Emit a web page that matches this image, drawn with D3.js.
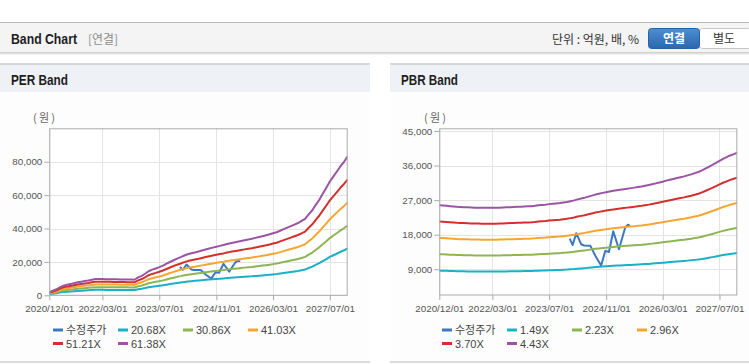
<!DOCTYPE html>
<html><head><meta charset="utf-8">
<script src="https://cdn.jsdelivr.net/npm/d3@7"></script>
<style>
body{margin:0;background:#fff;}
svg{display:block;}
</style></head><body>
<svg id="c" width="749" height="364"></svg>
<script>
// ---------- data ----------
const bandStart = new Date(2020, 11, 1);
const bandEnd = new Date(2027, 11, 1);
// monthly EPS (PER band base), Dec 2020 .. Dec 2027
const epsValues = [29,45,59,78,94,102,110,118,127,133,139,145,152,158,158,158,157,157,156,156,155,155,154,153,152,
  175,190,210,235,250,262,275,290,308,325,342,358,372,388,400,410,418,427,437,447,456,465,474,482,490,500,
  508,515,522,530,537,545,551,560,568,576,585,595,605,615,630,645,660,675,690,705,725,745,790,830,880,930,
  990,1050,1110,1160,1210,1260,1305,1355];
// monthly BPS (PBR band base), Dec 2020 .. Dec 2027
const bpsValues = [5790,5780,5760,5740,5720,5700,5690,5680,5670,5660,5650,5650,5640,5640,5640,5640,5640,5650,
  5660,5670,5680,5690,5700,5710,5720,5730,5740,5760,5790,5810,5830,5860,5880,5900,5920,5950,5980,6030,6080,
  6140,6190,6240,6300,6360,6420,6470,6520,6560,6600,6640,6680,6710,6740,6770,6800,6830,6870,6900,6940,6980,
  7030,7080,7130,7180,7240,7290,7340,7390,7440,7490,7550,7610,7680,7750,7840,7940,8050,8160,8280,8400,8520,
  8620,8720,8800,8880];
const perMultiples = [20.68, 30.86, 41.03, 51.21, 61.38];
const perLabels = ["20.68X", "30.86X", "41.03X", "51.21X", "61.38X"];
const pbrMultiples = [1.49, 2.23, 2.96, 3.70, 4.43];
const pbrLabels = ["1.49X", "2.23X", "2.96X", "3.70X", "4.43X"];
const priceName = "수정주가";
const priceDates = ["2023-12-25","2024-01-19","2024-02-19","2024-04-01","2024-04-25","2024-06-19","2024-08-04",
  "2024-09-19","2024-10-25","2024-11-25","2025-01-01","2025-02-19","2025-04-13","2025-05-07","2025-05-25"];
const priceValues = [17000,15300,18400,15500,15200,15100,12300,10000,13800,13500,18900,14200,19800,20600,20300];
const xTickDates = ["2020-12-01","2022-03-01","2023-07-01","2024-11-01","2026-03-01","2027-07-01"];
const xTickLabels = ["2020/12/01","2022/03/01","2023/07/01","2024/11/01","2026/03/01","2027/07/01"];
const perTicks = [0, 20000, 40000, 60000, 80000];
const pbrTicks = [9000, 18000, 27000, 36000, 45000];
const seriesColors = ["#3b78c4", "#1ab0c8", "#8db552", "#f5a632", "#d2302c", "#9b54a4"];

// ---------- setup ----------
const parse = d3.timeParse("%Y-%m-%d");
const months = d3.timeMonth.range(bandStart, d3.timeMonth.offset(bandEnd, 1));
const svg = d3.select("#c");
const KR = "'Noto Sans CJK KR', 'Noto Sans', sans-serif";
const SANS = "'Liberation Sans', Arial, sans-serif";

// ---------- header ----------
svg.append("rect").attr("x", 0).attr("y", 22).attr("width", 749).attr("height", 1).attr("fill", "#b8b8b8");
svg.append("rect").attr("x", 0).attr("y", 23).attr("width", 749).attr("height", 29).attr("fill", "#f4f4f4");
[["#cfcfcf", 52], ["#e2e2e2", 53], ["#efefef", 54]].forEach(([c, y]) =>
  svg.append("rect").attr("x", 0).attr("y", y).attr("width", 749).attr("height", 1).attr("fill", c));
svg.append("text").attr("x", 11).attr("y", 43.5).attr("font-family", SANS).attr("font-weight", "bold")
  .attr("font-size", 14.5).attr("fill", "#1e1e1e")
  .attr("textLength", 66).attr("lengthAdjust", "spacingAndGlyphs").text("Band Chart");
svg.append("text").attr("x", 88).attr("y", 43.5).attr("font-family", KR).attr("font-size", 12)
  .attr("fill", "#8c8c8c").attr("textLength", 30).attr("lengthAdjust", "spacingAndGlyphs").text("[연결]");
svg.append("text").attr("x", 552).attr("y", 43.5).attr("font-family", KR).attr("font-size", 12)
  .attr("fill", "#333").text("단위 : 억원, 배, %");
const defs = svg.append("defs");
const grad = defs.append("linearGradient").attr("id", "btn").attr("x1", 0).attr("y1", 0).attr("x2", 0).attr("y2", 1);
grad.append("stop").attr("offset", "0%").attr("stop-color", "#4d8ed3");
grad.append("stop").attr("offset", "100%").attr("stop-color", "#2b67ab");
svg.append("rect").attr("x", 699.5).attr("y", 28.5).attr("width", 52).attr("height", 20).attr("rx", 3)
  .attr("fill", "#fff").attr("stroke", "#c6c6c6");
svg.append("rect").attr("x", 648.5).attr("y", 28.5).attr("width", 51).attr("height", 20).attr("rx", 3)
  .attr("fill", "url(#btn)").attr("stroke", "#2a62a2");
svg.append("text").attr("x", 674).attr("y", 42.5).attr("text-anchor", "middle").attr("font-family", KR)
  .attr("font-weight", "bold").attr("font-size", 12).attr("fill", "#fff").text("연결");
svg.append("text").attr("x", 724).attr("y", 42.5).attr("text-anchor", "middle").attr("font-family", KR)
  .attr("font-size", 12).attr("fill", "#333").text("별도");

// ---------- panels ----------
function drawPanel(o) {
  const g = svg.append("g");
  g.append("rect").attr("x", o.px).attr("y", 63).attr("width", o.pw).attr("height", 2).attr("fill", "#d6d6d6");
  g.append("rect").attr("x", o.px).attr("y", 65).attr("width", o.pw).attr("height", 27).attr("fill", "#eef1f6");
  g.append("rect").attr("x", o.px).attr("y", 92).attr("width", o.pw).attr("height", 269).attr("fill", "#fdfdfd");
  g.append("rect").attr("x", o.px).attr("y", 361).attr("width", o.pw).attr("height", 2).attr("fill", "#dcdcdc");
  g.append("text").attr("x", o.px + 11).attr("y", 85).attr("font-family", SANS).attr("font-weight", "bold")
    .attr("font-size", 14.5).attr("fill", "#1e1e1e")
    .attr("textLength", 57).attr("lengthAdjust", "spacingAndGlyphs").text(o.title);

  const L = o.left, R = o.right, T = 128.3, B = o.bottom;
  const x = d3.scaleTime().domain([bandStart, bandEnd]).range([L, R]);
  const y = d3.scaleLinear().domain(o.yDomain).range([B, T]);

  g.append("rect").attr("x", L).attr("y", T).attr("width", R - L).attr("height", B - T).attr("fill", "#fff");
  // grid
  const tickDates = xTickDates.map(parse);
  g.selectAll(".vg").data(tickDates).enter().append("line")
    .attr("x1", d => Math.round(x(d)) + 0.5).attr("x2", d => Math.round(x(d)) + 0.5)
    .attr("y1", T).attr("y2", B).attr("stroke", "#e4e4e4");
  g.selectAll(".hg").data(o.ticks).enter().append("line")
    .attr("x1", L).attr("x2", R)
    .attr("y1", d => Math.round(y(d)) + 0.5).attr("y2", d => Math.round(y(d)) + 0.5).attr("stroke", "#e4e4e4");

  // axes
  const xAxis = d3.axisBottom(x).tickValues(tickDates).tickSize(5)
    .tickFormat((d, i) => xTickLabels[i]);
  const xa = g.append("g").attr("transform", `translate(0,${B})`).call(xAxis);
  xa.select(".domain").remove();
  xa.selectAll("line").attr("stroke", "#aaa");
  xa.selectAll("text").attr("font-family", SANS).attr("font-size", 9.8).attr("fill", "#555").attr("dy", "0.9em");

  const yAxis = d3.axisLeft(y).tickValues(o.ticks).tickSize(5).tickPadding(2)
    .tickFormat(d3.format(","));
  const ya = g.append("g").attr("transform", `translate(${L},0)`).call(yAxis);
  ya.select(".domain").remove();
  ya.selectAll("line").attr("stroke", "#aaa");
  ya.selectAll("text").attr("font-family", SANS).attr("font-size", 9.8).attr("fill", "#555");

  g.append("text").attr("x", o.unitX).attr("y", 122).attr("font-family", KR).attr("font-size", 11)
    .attr("fill", "#666").attr("textLength", 22).attr("lengthAdjust", "spacing").text("(원)");

  // clip
  const cid = "clip" + o.id;
  defs.append("clipPath").attr("id", cid).append("rect").attr("x", L).attr("y", T - 2)
    .attr("width", R - L).attr("height", B - T + 2);
  const pg = g.append("g").attr("clip-path", `url(#${cid})`);

  const line = d3.line().x(d => x(d[0])).y(d => y(d[1]));
  // price
  const pricePts = priceDates.map((d, i) => [parse(d), priceValues[i]]);
  pg.append("path").attr("d", line(pricePts)).attr("fill", "none").attr("stroke", seriesColors[0])
    .attr("stroke-width", 2).attr("stroke-linejoin", "round");
  // bands
  o.multiples.forEach((m, k) => {
    const pts = months.map((d, i) => [d, o.base[i] * m]);
    pg.append("path").attr("d", line(pts)).attr("fill", "none").attr("stroke", seriesColors[k + 1])
      .attr("stroke-width", 2).attr("stroke-linejoin", "round");
  });

  // border
  g.append("rect").attr("x", L + 0.5).attr("y", T + 0.5).attr("width", R - L - 1).attr("height", B - T - 0.5)
    .attr("fill", "none").attr("stroke", "#ababab");

  // legend
  const names = [priceName].concat(o.labels);
  names.forEach((nm, i) => {
    const col = i < 4 ? i : i - 4;
    const row = i < 4 ? 0 : 1;
    const lx = o.legendX + col * 65;
    const ly = row === 0 ? 330 : 343.5;
    g.append("line").attr("x1", lx).attr("x2", lx + 10).attr("y1", ly).attr("y2", ly)
      .attr("stroke", seriesColors[i]).attr("stroke-width", 3);
    g.append("text").attr("x", lx + 13).attr("y", ly + 4).attr("font-family", i === 0 ? KR : SANS)
      .attr("font-size", 11).attr("fill", "#444").text(nm);
  });
}

drawPanel({id: "per", px: 0, pw: 370, title: "PER Band", left: 49.3, right: 347.7, bottom: 295.3,
  yDomain: [0, 100000], ticks: perTicks, base: epsValues, multiples: perMultiples, labels: perLabels,
  unitX: 33, legendX: 53});
drawPanel({id: "pbr", px: 390, pw: 359, title: "PBR Band", left: 439.3, right: 737.3, bottom: 295,
  yDomain: [2300, 45700], ticks: pbrTicks, base: bpsValues, multiples: pbrMultiples, labels: pbrLabels,
  unitX: 424, legendX: 442});
</script>
</body></html>
